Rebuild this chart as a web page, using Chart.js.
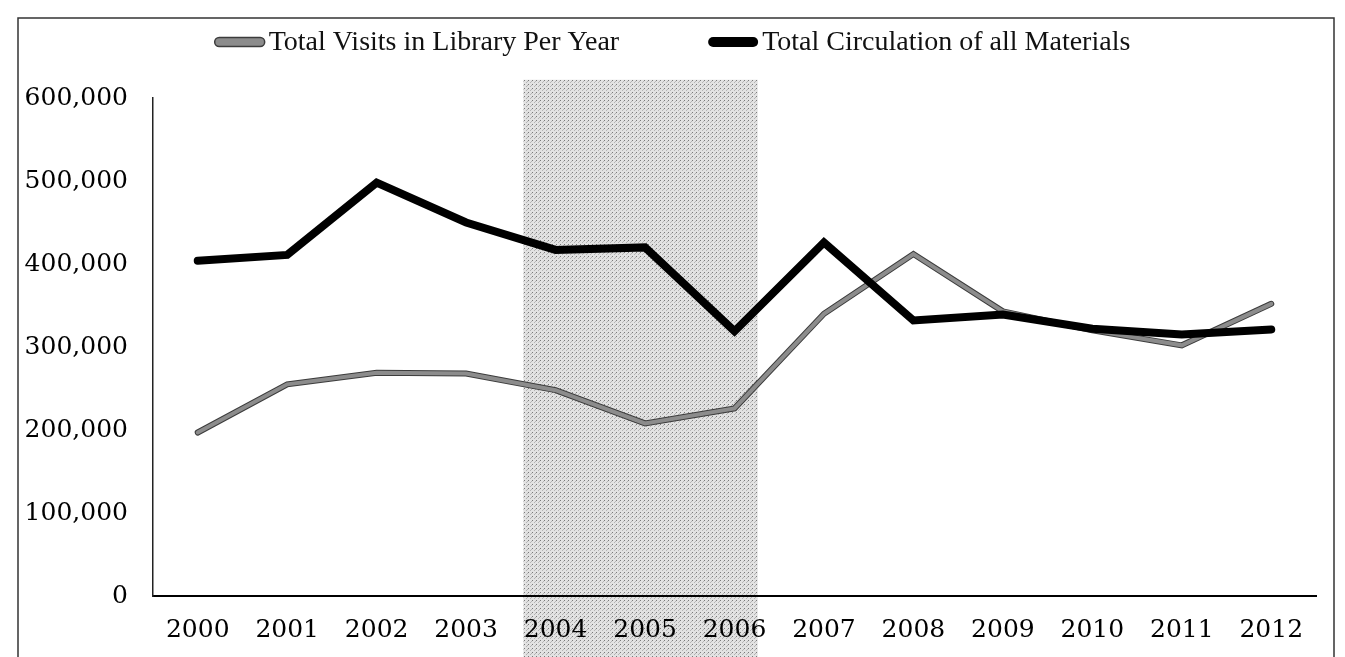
<!DOCTYPE html>
<html lang="en">
<head>
    <meta charset="UTF-8">
    <title>Library Visits and Circulation</title>
    <script src="https://cdn.jsdelivr.net/npm/chart.js"></script>
    <style>
        body { margin: 0; background: #fff; }
        #wrap { width: 1345px; height: 657px; position: relative; }
    </style>
</head>
<body>
<div id="wrap"><canvas id="libChart"></canvas></div>
<script>
// years on the x axis
const years = ['2000', '2001', '2002', '2003', '2004', '2005', '2006',
               '2007', '2008', '2009', '2010', '2011', '2012'];

// values
const visits = [197000, 255000, 269000, 268000, 248000, 208000, 226000,
                340000, 412000, 343000, 320000, 302000, 352000];
const circulation = [404000, 411000, 498000, 450000, 417000, 420000, 319000,
                     426000, 332000, 339000, 322000, 315000, 321000];

const seriesNames = ['Total Visits in Library Per Year', 'Total Circulation of all Materials'];

// shaded period, in category index units
const shadeFrom = 3.64;
const shadeTo = 6.26;
const shadeTop = 622000;

// dotted grey fill for the shaded band
function makePattern() {
    const c = document.createElement('canvas');
    c.width = 4; c.height = 4;
    const g = c.getContext('2d');
    g.fillStyle = '#e2e2e2';
    g.fillRect(0, 0, 4, 4);
    g.fillStyle = '#7a7a7a';
    g.fillRect(0, 0, 1, 1);
    g.fillStyle = '#b4b4b4';
    g.fillRect(2, 2, 1, 1);
    g.fillRect(3, 1, 1, 1);
    return g.createPattern(c, 'repeat');
}

const backdrop = {
    id: 'backdrop',
    beforeDraw(chart) {
        const ctx = chart.ctx;
        const x = chart.scales.x, y = chart.scales.y;
        const step = x.getPixelForValue(1) - x.getPixelForValue(0);
        const left = x.getPixelForValue(0) + shadeFrom * step;
        const right = x.getPixelForValue(0) + shadeTo * step;
        const top = y.getPixelForValue(shadeTop);
        ctx.save();
        ctx.fillStyle = makePattern();
        ctx.fillRect(left, top, right - left, chart.height - top);
        // outer frame of the figure
        ctx.strokeStyle = '#333';
        ctx.lineWidth = 1.5;
        ctx.beginPath();
        ctx.moveTo(18, chart.height);
        ctx.lineTo(18, 18);
        ctx.lineTo(1334, 18);
        ctx.lineTo(1334, chart.height);
        ctx.stroke();
        ctx.restore();
    }
};

// dark edge under the grey line
const outline = {
    id: 'outline',
    beforeDatasetDraw(chart, args) {
        if (args.index !== 0) return;
        const line = args.meta.dataset;
        const o = line.options;
        const col = o.borderColor, w = o.borderWidth;
        o.borderColor = '#3c3c3c';
        o.borderWidth = w + 2;
        line.draw(chart.ctx, chart.chartArea);
        o.borderColor = col;
        o.borderWidth = w;
    }
};

// legend drawn across the top
const topLegend = {
    id: 'topLegend',
    afterDraw(chart) {
        const ctx = chart.ctx;
        const sw = 50, gap = 4, between = 89;
        ctx.save();
        ctx.font = '28px "Liberation Serif", serif';
        ctx.textBaseline = 'middle';
        const items = chart.data.datasets.map(ds => ({
            ds: ds,
            w: sw + gap + ctx.measureText(ds.label).width
        }));
        const total = items.reduce((a, it) => a + it.w, 0) + between * (items.length - 1);
        let x = chart.width / 2 - total / 2;
        const yMid = 42;
        items.forEach(it => {
            const h = it.ds.legendHeight;
            ctx.beginPath();
            ctx.roundRect(x, yMid - h / 2, sw, h, h / 2);
            ctx.fillStyle = it.ds.borderColor;
            ctx.fill();
            if (it.ds.legendEdge) {
                ctx.strokeStyle = it.ds.legendEdge;
                ctx.lineWidth = 1.5;
                ctx.stroke();
            }
            ctx.fillStyle = '#111';
            ctx.fillText(it.ds.label, x + sw + gap, yMid + 1);
            x += it.w + between;
        });
        ctx.restore();
    }
};

const tickFont = { family: '"DejaVu Serif", serif', size: 25 };

new Chart(document.getElementById('libChart'), {
    type: 'line',
    data: {
        labels: years,
        datasets: [{
            label: seriesNames[0],
            data: visits,
            borderColor: '#8c8c8c',
            borderWidth: 4,
            legendHeight: 9,
            legendEdge: '#3c3c3c',
            order: 1
        }, {
            label: seriesNames[1],
            data: circulation,
            borderColor: '#000',
            borderWidth: 8,
            legendHeight: 10,
            order: 0
        }]
    },
    options: {
        responsive: true,
        maintainAspectRatio: false,
        animation: false,
        layout: { padding: { top: 98, right: 29, bottom: 13, left: 0 } },
        elements: {
            point: { radius: 0, hoverRadius: 0 },
            line: { tension: 0, borderCapStyle: 'round', borderJoinStyle: 'miter', fill: false }
        },
        plugins: {
            legend: { display: false },
            tooltip: { enabled: false }
        },
        scales: {
            x: {
                offset: true,
                afterFit(scale) { scale.height = 48; },
                grid: { display: false, drawTicks: false },
                border: { display: true, color: '#000', width: 2 },
                ticks: { color: '#000', font: tickFont, padding: 19, maxRotation: 0 }
            },
            y: {
                min: 0,
                max: 600000,
                afterFit(scale) { scale.width = 153; },
                grid: { display: false, drawTicks: false },
                border: { display: true, color: '#222', width: 1.5 },
                ticks: {
                    stepSize: 100000,
                    color: '#000',
                    font: tickFont,
                    padding: 25,
                    callback: v => v.toLocaleString('en-US')
                }
            }
        }
    },
    plugins: [backdrop, outline, topLegend]
});
</script>
</body>
</html>
